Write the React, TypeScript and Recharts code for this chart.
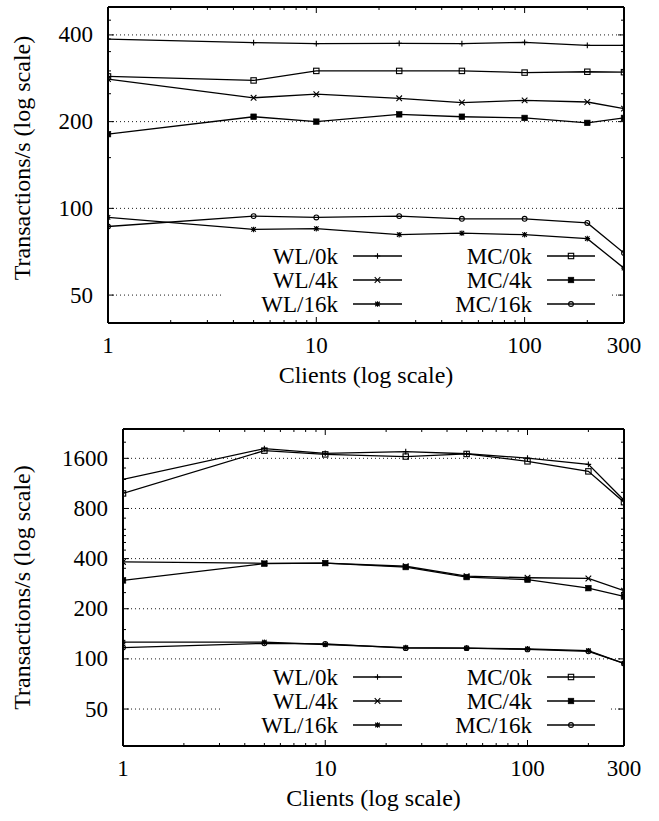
import React from 'react';
import { LineChart, Line, XAxis, YAxis, ReferenceLine, Legend } from 'recharts';

// ---- data ----
const clients = [1, 5, 10, 25, 50, 100, 200, 300];

const topWL0k = [387, 376, 373, 374, 373, 377, 368, 368];
const topWL4k = [281, 242, 249, 241, 233, 237, 234, 222];
const topWL16k = [93, 84.5, 85, 81, 82, 81, 78.5, 62];
const topMC0k = [287, 278, 300, 300, 300, 296, 298, 297];
const topMC4k = [181, 208, 200, 212, 208, 206, 198, 206];
const topMC16k = [86.5, 94, 93, 94, 92, 92, 89, 70];

const botWL0k = [1195, 1830, 1715, 1755, 1705, 1605, 1472, 897];
const botWL4k = [382, 375, 376, 360, 314, 307, 304, 257];
const botWL16k = [126, 126, 122, 117, 116, 115, 112, 94];
const botMC0k = [985, 1780, 1690, 1640, 1700, 1535, 1336, 873];
const botMC4k = [296, 373, 376, 356, 310, 299, 266, 237];
const botMC16k = [117, 124, 123, 116, 116, 114, 111, 94];

const seriesKeys = ['wl0k', 'wl4k', 'wl16k', 'mc0k', 'mc4k', 'mc16k'];
const seriesNames = ['WL/0k', 'WL/4k', 'WL/16k', 'MC/0k', 'MC/4k', 'MC/16k'];
const seriesShapes = ['plus', 'cross', 'star', 'square', 'fsquare', 'circle'];

const xMajor = [1, 10, 100, 300];
const xMinor = [2, 3, 4, 5, 6, 7, 8, 9, 20, 30, 40, 50, 60, 70, 80, 90, 200];
const xDomain = [1, 300];

const topYMajor = [50, 100, 200, 400];
const topYMinor = [150, 250, 300, 350, 450];
const topYDomain = [40, 500];

const botYMajor = [50, 100, 200, 400, 800, 1600];
const botYMinor = [150, 250, 300, 350, 450, 500, 550, 600, 700, 1000, 1200, 1400, 2000];
const botYDomain = [30, 2400];

const xTitle = 'Clients (log scale)';
const yTitle = 'Transactions/s (log scale)';

const FONT = "'Liberation Serif', 'DejaVu Serif', serif";
const tickStyle = { fontFamily: FONT, fontSize: 23 } as any;
const titleStyle = { fontFamily: FONT, fontSize: 24 } as any;

function buildRows(cols: number[][]) {
  return clients.map((c, i) => {
    const row: any = { clients: c };
    seriesKeys.forEach((k, j) => {
      row[k] = cols[j][i];
    });
    return row;
  });
}

const topRows = buildRows([topWL0k, topWL4k, topWL16k, topMC0k, topMC4k, topMC16k]);
const botRows = buildRows([botWL0k, botWL4k, botWL16k, botMC0k, botMC4k, botMC16k]);

function Marker({ cx, cy, shape }: { cx: number; cy: number; shape: string }) {
  if (cx == null || cy == null || isNaN(cx) || isNaN(cy)) return null;
  const s = 2.8;
  const common = { stroke: '#000', strokeWidth: 1.1, fill: 'none' } as any;
  switch (shape) {
    case 'plus':
      return <path d={`M${cx - s},${cy}H${cx + s}M${cx},${cy - s}V${cy + s}`} {...common} />;
    case 'cross':
      return <path d={`M${cx - s},${cy - s}L${cx + s},${cy + s}M${cx - s},${cy + s}L${cx + s},${cy - s}`} {...common} />;
    case 'star':
      return (
        <path
          d={`M${cx - s},${cy}H${cx + s}M${cx},${cy - s}V${cy + s}M${cx - s * 0.8},${cy - s * 0.8}L${cx + s * 0.8},${cy + s * 0.8}M${cx - s * 0.8},${cy + s * 0.8}L${cx + s * 0.8},${cy - s * 0.8}`}
          {...common}
        />
      );
    case 'square':
      return <rect x={cx - 2.7} y={cy - 2.7} width={5.4} height={5.4} {...common} />;
    case 'fsquare':
      return <rect x={cx - 2.8} y={cy - 2.8} width={5.6} height={5.6} fill="#000" stroke="#000" strokeWidth={0.6} />;
    case 'circle':
      return <circle cx={cx} cy={cy} r={2.4} {...common} />;
    default:
      return null;
  }
}

function makeXTick(showLabel: boolean, dir: number) {
  return (props: any) => {
    const { x, y, payload } = props;
    const v = payload.value;
    const major = xMajor.includes(v);
    const len = major ? 6 : 3;
    return (
      <g>
        <line x1={x} y1={y} x2={x} y2={y + dir * len} stroke="#000" strokeWidth={1} />
        {showLabel && major ? (
          <text x={x} y={y + 30} textAnchor="middle" style={tickStyle} fill="#000">
            {v}
          </text>
        ) : null}
      </g>
    );
  };
}

function makeYTick(majors: number[], showLabel: boolean, dir: number) {
  return (props: any) => {
    const { x, y, payload } = props;
    const v = payload.value;
    const major = majors.includes(v);
    const len = major ? 6 : 3;
    return (
      <g>
        <line x1={x} y1={y} x2={x + dir * len} y2={y} stroke="#000" strokeWidth={1} />
        {showLabel && major ? (
          <text x={x - 15} y={y} textAnchor="end" dominantBaseline="central" style={tickStyle} fill="#000">
            {v}
          </text>
        ) : null}
      </g>
    );
  };
}

function LegendBox() {
  const rowsY = [12, 36, 60];
  const cols = [
    { textEnd: 116, l1: 131, l2: 180 },
    { textEnd: 310, l1: 325, l2: 373 },
  ];
  return (
    <svg width={388} height={72} style={{ display: 'block', overflow: 'visible' }}>
      <rect x={0} y={24} width={388} height={48} fill="#fff" />
      {seriesNames.map((name, j) => {
        const col = cols[Math.floor(j / 3)];
        const y = rowsY[j % 3];
        return (
          <g key={name}>
            <text x={col.textEnd} y={y} textAnchor="end" dominantBaseline="central" style={tickStyle} fill="#000">
              {name}
            </text>
            <line x1={col.l1} x2={col.l2} y1={y} y2={y} stroke="#000" strokeWidth={1.3} />
            <Marker cx={(col.l1 + col.l2) / 2} cy={y} shape={seriesShapes[j]} />
          </g>
        );
      })}
    </svg>
  );
}

const axisLineStyle = { stroke: '#000', strokeWidth: 2 };

function Panel(p: {
  rows: any[];
  yDomain: number[];
  yMajor: number[];
  yMinor: number[];
  height: number;
  margin: any;
  yAxisWidth: number;
  legendTop: number;
  yLabelShift: number;
}) {
  const yTicks = [...p.yMajor, ...p.yMinor].sort((a, b) => a - b);
  const xTicks = [...xMajor, ...xMinor].sort((a, b) => a - b);
  return (
    <LineChart width={659} height={p.height} data={p.rows} margin={p.margin} style={{ fontFamily: FONT }}>
      <XAxis
        xAxisId="b"
        dataKey="clients"
        type="number"
        scale="log"
        domain={xDomain}
        allowDataOverflow
        ticks={xTicks}
        interval={0}
        tickSize={0}
        tickMargin={0}
        tickLine={false}
        tick={makeXTick(true, -1)}
        axisLine={axisLineStyle}
        height={60}
        label={(lp: any) => {
          const vb = lp.viewBox || {};
          return (
            <text x={vb.x + vb.width / 2} y={vb.y + 60} textAnchor="middle" style={titleStyle} fill="#000">
              {xTitle}
            </text>
          );
        }}
      />
      <XAxis
        xAxisId="t"
        orientation="top"
        dataKey="clients"
        type="number"
        scale="log"
        domain={xDomain}
        allowDataOverflow
        ticks={xTicks}
        interval={0}
        tickSize={0}
        tickMargin={0}
        tickLine={false}
        tick={makeXTick(false, 1)}
        axisLine={axisLineStyle}
        height={2}
      />
      <YAxis
        yAxisId="l"
        type="number"
        scale="log"
        domain={p.yDomain}
        allowDataOverflow
        ticks={yTicks}
        interval={0}
        tickSize={0}
        tickMargin={0}
        tickLine={false}
        tick={makeYTick(p.yMajor, true, 1)}
        axisLine={axisLineStyle}
        width={p.yAxisWidth}
        label={(lp: any) => {
          const vb = lp.viewBox || {};
          const bx = vb.x + 22;
          const cy = vb.y + vb.height / 2 + p.yLabelShift;
          return (
            <text x={bx} y={cy} transform={`rotate(-90 ${bx} ${cy})`} textAnchor="middle" style={titleStyle} fill="#000">
              {yTitle}
            </text>
          );
        }}
      />
      <YAxis
        yAxisId="r"
        orientation="right"
        type="number"
        scale="log"
        domain={p.yDomain}
        allowDataOverflow
        ticks={yTicks}
        interval={0}
        tickSize={0}
        tickMargin={0}
        tickLine={false}
        tick={makeYTick(p.yMajor, false, -1)}
        axisLine={axisLineStyle}
        width={2}
      />
      {p.yMajor.map((v) => (
        <ReferenceLine key={`g${v}`} xAxisId="b" yAxisId="l" y={v} stroke="#000" strokeWidth={0.9} strokeDasharray="1 3" />
      ))}
      {seriesKeys.map((k, j) => (
        <Line
          key={k}
          xAxisId="b"
          yAxisId="l"
          dataKey={k}
          name={seriesNames[j]}
          type="linear"
          stroke="#000"
          strokeWidth={1.3}
          dot={(dp: any) => <Marker key={`${k}-${dp.index}`} cx={dp.cx} cy={dp.cy} shape={seriesShapes[j]} />}
          activeDot={false}
          isAnimationActive={false}
        />
      ))}
      <Legend
        layout="horizontal"
        verticalAlign="middle"
        align="center"
        wrapperStyle={{ left: 222, top: p.legendTop, width: 388, height: 72 }}
        content={() => <LegendBox />}
      />
    </LineChart>
  );
}

export default function App() {
  return (
    <div style={{ position: 'relative', width: 659, height: 821, background: '#fff', fontFamily: FONT }}>
      <style>{'body{margin:0;background:#fff}'}</style>
      <div style={{ position: 'absolute', left: 0, top: 0 }}>
        <Panel
          rows={topRows}
          yDomain={topYDomain}
          yMajor={topYMajor}
          yMinor={topYMinor}
          height={400}
          margin={{ top: 5, right: 33, bottom: 17, left: 8 }}
          yAxisWidth={100}
          legendTop={244}
          yLabelShift={-7}
        />
      </div>
      <div style={{ position: 'absolute', left: 0, top: 410 }}>
        <Panel
          rows={botRows}
          yDomain={botYDomain}
          yMajor={botYMajor}
          yMinor={botYMinor}
          height={411}
          margin={{ top: 17, right: 33, bottom: 15, left: 8 }}
          yAxisWidth={115}
          legendTop={255}
          yLabelShift={0}
        />
      </div>
    </div>
  );
}
